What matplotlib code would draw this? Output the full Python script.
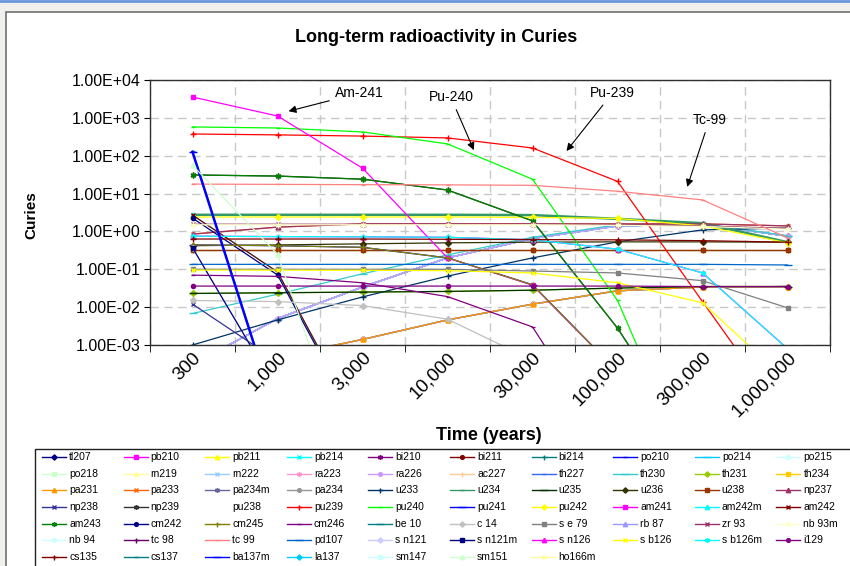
import numpy as np
import matplotlib
matplotlib.use("Agg")
import matplotlib.pyplot as plt
from matplotlib.lines import Line2D
from matplotlib.patches import Rectangle
from matplotlib.ticker import NullLocator

plt.rcParams['font.family'] = ['Liberation Sans', 'DejaVu Sans']

nan = np.nan

# decay times (years) -> one category per column
times = [300, 1000, 3000, 10000, 30000, 100000, 300000, 1000000]

nuclides = ['tl207', 'pb210', 'pb211', 'pb214', 'bi210', 'bi211', 'bi214', 'po210', 'po214', 'po215',
            'po218', 'rn219', 'rn222', 'ra223', 'ra226', 'ac227', 'th227', 'th230', 'th231', 'th234',
            'pa231', 'pa233', 'pa234m', 'pa234', 'u233', 'u234', 'u235', 'u236', 'u238', 'np237',
            'np238', 'np239', 'pu238', 'pu239', 'pu240', 'pu241', 'pu242', 'am241', 'am242m', 'am242',
            'am243', 'cm242', 'cm245', 'cm246', 'be 10', 'c 14', 's e 79', 'rb 87', 'zr 93', 'nb 93m',
            'nb 94', 'tc 98', 'tc 99', 'pd107', 's n121', 's n121m', 's n126', 's b126', 's b126m', 'i129',
            'cs135', 'cs137', 'ba137m', 'la137', 'sm147', 'sm151', 'ho166m']

# activity in Curies at each time
tl207 = [1.5e-4, 4.8e-4, 0.0014, 0.0046, 0.012, 0.027, 0.034, 0.035]
pb210 = [3e-4, 0.005, 0.034, 0.2, 0.65, 1.4, 1.55, 0.75]
pb211 = [1.5e-4, 4.8e-4, 0.0014, 0.0046, 0.012, 0.027, 0.034, 0.035]
pb214 = [3e-4, 0.005, 0.034, 0.2, 0.65, 1.4, 1.55, 0.75]
bi210 = [3e-4, 0.005, 0.034, 0.2, 0.65, 1.4, 1.55, 0.75]
bi211 = [1.5e-4, 4.8e-4, 0.0014, 0.0046, 0.012, 0.027, 0.034, 0.035]
bi214 = [3e-4, 0.005, 0.034, 0.2, 0.65, 1.4, 1.55, 0.75]
po210 = [3e-4, 0.005, 0.034, 0.2, 0.65, 1.4, 1.55, 0.75]
po214 = [3e-4, 0.005, 0.034, 0.2, 0.65, 1.4, 1.55, 0.75]
po215 = [1.5e-4, 4.8e-4, 0.0014, 0.0046, 0.012, 0.027, 0.034, 0.035]
po218 = [3e-4, 0.005, 0.034, 0.2, 0.65, 1.4, 1.55, 0.75]
rn219 = [1.5e-4, 4.8e-4, 0.0014, 0.0046, 0.012, 0.027, 0.034, 0.035]
rn222 = [3e-4, 0.005, 0.034, 0.2, 0.65, 1.4, 1.55, 0.75]
ra223 = [1.5e-4, 4.8e-4, 0.0014, 0.0046, 0.012, 0.027, 0.034, 0.035]
ra226 = [3e-4, 0.005, 0.034, 0.2, 0.65, 1.4, 1.55, 0.75]
ac227 = [1.5e-4, 4.8e-4, 0.0014, 0.0046, 0.012, 0.027, 0.034, 0.035]
th227 = [1.5e-4, 4.8e-4, 0.0014, 0.0046, 0.012, 0.027, 0.034, 0.035]
th230 = [0.0068, 0.022, 0.076, 0.24, 0.7, 1.5, 1.6, 0.77]
th231 = [0.023, 0.024, 0.025, 0.026, 0.028, 0.032, 0.035, 0.035]
th234 = [0.32, 0.32, 0.32, 0.32, 0.32, 0.32, 0.32, 0.32]
pa231 = [1.5e-4, 4.8e-4, 0.0014, 0.0046, 0.012, 0.027, 0.034, 0.035]
pa233 = [0.85, 1.3, 1.58, 1.58, 1.58, 1.58, 1.58, 1.4]
pa234m = [0.32, 0.32, 0.32, 0.32, 0.32, 0.32, 0.32, 0.32]
pa234 = [5e-4, 5e-4, 5e-4, 5e-4, 5e-4, 5e-4, 5e-4, 5e-4]
u233 = [0.001, 0.0046, 0.0186, 0.066, 0.2, 0.53, 1.1, 1.23]
u234 = [2.75, 2.75, 2.75, 2.75, 2.7, 2.15, 1.65, 0.52]
u235 = [0.023, 0.024, 0.025, 0.026, 0.028, 0.032, 0.035, 0.035]
u236 = [0.42, 0.44, 0.47, 0.5, 0.52, 0.53, 0.53, 0.52]
u238 = [0.32, 0.32, 0.32, 0.32, 0.32, 0.32, 0.32, 0.32]
np237 = [0.85, 1.3, 1.58, 1.58, 1.58, 1.58, 1.58, 1.4]
np238 = [0.012, 3.8e-4, 3e-8, nan, nan, nan, nan, nan]
np239 = [31, 29, 24, 12.4, 1.9, 0.0028, 1e-6, nan]
pu238 = [30, 0.2, 1e-5, nan, nan, nan, nan, nan]
pu239 = [375, 355, 330, 295, 160, 21, 0.014, 1e-5]
pu240 = [575, 540, 425, 205, 24, 0.015, 1e-7, nan]
pu241 = [0.44, 0.42, 0.38, 0.2, 0.039, 2e-4, nan, nan]
pu242 = [2.4, 2.4, 2.4, 2.4, 2.35, 2.2, 1.4, 0.5]
am241 = [3550, 1120, 47, 0.2, 0.038, 2e-4, nan, nan]
am242m = [2.7, 0.085, 6e-6, nan, nan, nan, nan, nan]
am242 = [2.7, 0.085, 6e-6, nan, nan, nan, nan, nan]
am243 = [31, 29, 24, 12.4, 1.9, 0.0028, 1e-6, nan]
cm242 = [2.25, 0.071, 5e-6, nan, nan, nan, nan, nan]
cm245 = [0.44, 0.42, 0.38, 0.2, 0.039, 2e-4, nan, nan]
cm246 = [0.07, 0.065, 0.044, 0.019, 0.003, 1e-6, nan, nan]
be10 = [4e-4, 4e-4, 4e-4, 4e-4, 4e-4, 4e-4, 4e-4, 4e-4]
c14 = [0.015, 0.014, 0.011, 0.0048, 4e-4, 1e-7, nan, nan]
se79 = [0.1, 0.1, 0.1, 0.1, 0.09, 0.08, 0.05, 0.0096]
rb87 = [2e-5, 2e-5, 2e-5, 2e-5, 2e-5, 2e-5, 2e-5, 2e-5]
zr93 = [1.55, 1.55, 1.55, 1.55, 1.55, 1.5, 1.4, 1.2]
nb93m = [1.5, 1.5, 1.5, 1.5, 1.5, 1.45, 1.35, 1.15]
nb94 = [2e-4, 2e-4, 2e-4, 2e-4, 2e-4, 2e-4, 2e-4, 2e-4]
tc98 = [1e-4, 1e-4, 1e-4, 1e-4, 1e-4, 1e-4, 1e-4, 1e-4]
tc99 = [17.8, 17.5, 17.2, 17, 16.5, 11.5, 6.8, 0.68]
pd107 = [0.135, 0.135, 0.135, 0.135, 0.135, 0.135, 0.135, 0.13]
sn121 = [0.37, 6e-5, nan, nan, nan, nan, nan, nan]
sn121m = [0.37, 6e-5, nan, nan, nan, nan, nan, nan]
sn126 = [0.75, 0.73, 0.72, 0.7, 0.6, 0.34, 0.08, 8e-4]
sb126 = [0.095, 0.095, 0.094, 0.092, 0.08, 0.044, 0.013, 1.1e-4]
sb126m = [0.75, 0.73, 0.72, 0.7, 0.6, 0.34, 0.08, 8e-4]
i129 = [0.036, 0.036, 0.036, 0.036, 0.036, 0.036, 0.035, 0.035]
cs135 = [0.63, 0.63, 0.63, 0.62, 0.61, 0.6, 0.57, 0.52]
cs137 = [133, 1.3e-5, nan, nan, nan, nan, nan, nan]
ba137m = [126, 1.2e-5, nan, nan, nan, nan, nan, nan]
la137 = [5e-4, 5e-4, 5e-4, 5e-4, 5e-4, 5e-4, 5e-4, 5e-4]
sm147 = [1e-5, 1e-5, 1e-5, 1e-5, 1e-5, 1e-5, 1e-5, 1e-5]
sm151 = [56, 0.25, 1e-7, nan, nan, nan, nan, nan]
ho166m = [3e-4, 3e-4, 3e-4, 3e-4, 3e-4, 3e-4, 3e-4, 3e-4]

series = [tl207, pb210, pb211, pb214, bi210, bi211, bi214, po210, po214, po215,
          po218, rn219, rn222, ra223, ra226, ac227, th227, th230, th231, th234,
          pa231, pa233, pa234m, pa234, u233, u234, u235, u236, u238, np237,
          np238, np239, pu238, pu239, pu240, pu241, pu242, am241, am242m, am242,
          am243, cm242, cm245, cm246, be10, c14, se79, rb87, zr93, nb93m,
          nb94, tc98, tc99, pd107, sn121, sn121m, sn126, sb126, sb126m, i129,
          cs135, cs137, ba137m, la137, sm147, sm151, ho166m]

# old Excel chart colours: 32 default series colours, then the 56 colour palette from white on
first_colors = ['#000080', '#FF00FF', '#FFFF00', '#00FFFF', '#800080', '#800000', '#008080', '#0000FF',
                '#00CCFF', '#CCFFFF', '#CCFFCC', '#FFFF99', '#99CCFF', '#FF99CC', '#CC99FF', '#FFCC99',
                '#3366FF', '#33CCCC', '#99CC00', '#FFCC00', '#FF9900', '#FF6600', '#666699', '#969696',
                '#003366', '#339966', '#003300', '#333300', '#993300', '#993366', '#333399', '#333333']
palette = ['#FFFFFF', '#FF0000', '#00FF00', '#0000FF', '#FFFF00', '#FF00FF', '#00FFFF', '#800000',
           '#008000', '#000080', '#808000', '#800080', '#008080', '#C0C0C0', '#808080', '#9999FF',
           '#993366', '#FFFFCC', '#CCFFFF', '#660066', '#FF8080', '#0066CC', '#CCCCFF', '#000080',
           '#FF00FF', '#FFFF00', '#00FFFF', '#800080', '#800000', '#008080', '#0000FF', '#00CCFF',
           '#CCFFFF', '#CCFFCC', '#FFFF99']
colors = first_colors + palette
marker_cycle = ['D', 's', '^', 'x', (6, 2, 0), 'o', '+', '_', '_']
size_cycle = [3, 3, 3.5, 3.5, 4, 3, 4, 3.5, 6]

W, H = 850, 566


def fx(px):
    return px / W


def fy(py):
    return 1 - py / H


fig = plt.figure(figsize=(W / 100, H / 100), dpi=100, facecolor='#F0F0EC')
fig.add_artist(Rectangle((fx(6), fy(570)), fx(856) - fx(6), fy(12) - fy(570), transform=fig.transFigure,
                         facecolor='white', edgecolor='#707070', lw=1.2, zorder=0))
fig.add_artist(Line2D([0, 1], [fy(0.5), fy(0.5)], transform=fig.transFigure, color='#6A97D8', lw=2))

ax = fig.add_axes([fx(150), fy(345), fx(830) - fx(150), fy(80) - fy(345)])
ax.set_facecolor('white')
x = np.arange(len(times))

for i, (name, vals) in enumerate(zip(nuclides, series)):
    c = colors[i]
    if name == 'pu238':
        ax.plot(x, vals, linestyle='none', marker='none', color=c)
        continue
    lw = 0.9
    if name in ('ba137m', 'u234'):
        lw = 1.8
    ax.plot(x, vals, color=c, lw=lw, marker=marker_cycle[i % 9], ms=size_cycle[i % 9],
            mfc=c, mec=c, mew=1)

ax.set_yscale('log')
ax.set_ylim(1e-3, 1e4)
yt = [10.0 ** k for k in range(-3, 5)]
ax.set_yticks(yt)
ax.set_yticklabels([f'{v:.2E}' for v in yt], fontsize=11.5)
ax.yaxis.set_minor_locator(NullLocator())
ax.tick_params(axis='y', length=4, pad=3)

ax.set_xlim(-0.5, len(times) - 0.5)
ax.set_xticks(x)
ax.set_xticklabels([f'{t:,}' for t in times], rotation=45, ha='right', va='top',
                   rotation_mode='anchor', fontsize=13.5)
ax.tick_params(axis='x', which='major', length=0, pad=3)
ax.set_xticks(np.arange(-0.5, len(times), 1), minor=True)
ax.tick_params(axis='x', which='minor', length=5)

ax.grid(True, which='major', axis='y', color='#C8C8C8', ls=(0, (6, 4)), lw=1)
ax.grid(True, which='minor', axis='x', color='#C8C8C8', ls=(0, (6, 4)), lw=1)
ax.set_axisbelow(True)
for s in ax.spines.values():
    s.set_color('#303030')
    s.set_linewidth(1)

fig.text(fx(436), fy(38), 'Long-term radioactivity in Curies', ha='center', va='center',
         fontsize=13, fontweight='bold')
fig.text(fx(31), fy(215), 'Curies', ha='center', va='center', rotation=90,
         fontsize=11, fontweight='bold')
fig.text(fx(489), fy(436), 'Time (years)', ha='center', va='center', fontsize=13, fontweight='bold')

arrow = dict(arrowstyle='-|>', color='black', lw=0.8, mutation_scale=11, shrinkA=2, shrinkB=0)
ax.annotate('Am-241', xy=(1.13, 1500), xytext=(1.96, 4500), ha='center', va='center',
            fontsize=10, arrowprops=arrow)
ax.annotate('Pu-240', xy=(3.31, 140), xytext=(3.04, 3500), ha='center', va='center',
            fontsize=10, arrowprops=arrow)
ax.annotate('Pu-239', xy=(4.40, 133), xytext=(4.94, 4500), ha='center', va='center',
            fontsize=10, arrowprops=arrow)
ax.annotate('Tc-99', xy=(5.82, 15), xytext=(6.08, 870), ha='center', va='center',
            fontsize=10, arrowprops=arrow)

# legend box, filled row by row like the spreadsheet
fig.add_artist(Rectangle((fx(35), fy(568)), fx(852) - fx(35), fy(449) - fy(568), transform=fig.transFigure,
                         facecolor='white', edgecolor='#202020', lw=1, zorder=1))
ncol = 10
for i, name in enumerate(nuclides):
    r, cidx = divmod(i, ncol)
    x0 = 42 + cidx * 81.6
    yy = 457.3 + r * 16.57
    if name != 'pu238':
        fig.add_artist(Line2D([fx(x0), fx(x0 + 24)], [fy(yy), fy(yy)], transform=fig.transFigure,
                              color=colors[i], lw=1, zorder=2))
        fig.add_artist(Line2D([fx(x0 + 12)], [fy(yy)], transform=fig.transFigure, color=colors[i],
                              marker=marker_cycle[i % 9], ms=size_cycle[i % 9] * 0.9, mfc=colors[i],
                              mec=colors[i], zorder=2))
    fig.text(fx(x0 + 27), fy(yy), name, ha='left', va='center', fontsize=7.5, zorder=3)

fig.savefig('out.png', dpi=100, facecolor=fig.get_facecolor())
